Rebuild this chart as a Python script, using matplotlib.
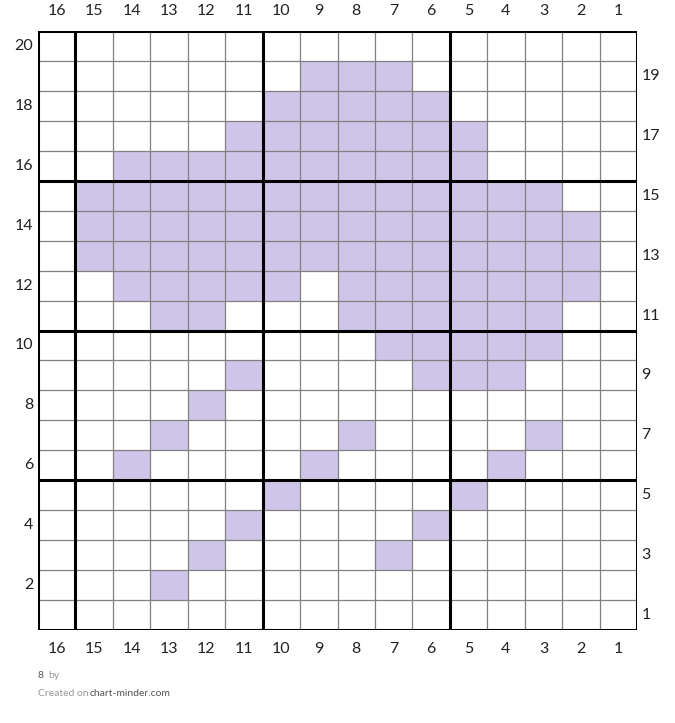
import numpy as np
import matplotlib
matplotlib.use("Agg")
import matplotlib.pyplot as plt
from matplotlib.colors import ListedColormap

plt.rcParams['font.family'] = ['Lato', 'DejaVu Sans']

n_cols = 16
n_rows = 20
col_numbers = list(range(16, 0, -1))   # left to right
row_numbers = list(range(20, 0, -1))   # top to bottom

# filled stitches per row (column numbers)
filled = {
    20: [],
    19: [9, 8, 7],
    18: [10, 9, 8, 7, 6],
    17: [11, 10, 9, 8, 7, 6, 5],
    16: [14, 13, 12, 11, 10, 9, 8, 7, 6, 5],
    15: [15, 14, 13, 12, 11, 10, 9, 8, 7, 6, 5, 4, 3],
    14: [15, 14, 13, 12, 11, 10, 9, 8, 7, 6, 5, 4, 3, 2],
    13: [15, 14, 13, 12, 11, 10, 9, 8, 7, 6, 5, 4, 3, 2],
    12: [14, 13, 12, 11, 10, 8, 7, 6, 5, 4, 3, 2],
    11: [13, 12, 8, 7, 6, 5, 4, 3],
    10: [7, 6, 5, 4, 3],
    9: [11, 6, 5, 4],
    8: [12],
    7: [13, 8, 3],
    6: [14, 9, 4],
    5: [10, 5],
    4: [11, 6],
    3: [12, 7],
    2: [13],
    1: [],
}

fill_color = '#cfc5e8'

grid = np.zeros((n_rows, n_cols))
for r, cols in filled.items():
    for c in cols:
        grid[r - 1, c - 1] = 1

fig = plt.figure(figsize=(6.75, 7.23), dpi=100)
ax = fig.add_axes([38/675, (723-630)/723, 599/675, 599/723])

xe = np.arange(0.5, n_cols + 1.5, 1)
ye = np.arange(0.5, n_rows + 1.5, 1)
ax.pcolormesh(xe, ye, grid, cmap=ListedColormap(['white', fill_color]),
              vmin=0, vmax=1, shading='flat')
ax.set_xlim(n_cols + 0.5, 0.5)
ax.set_ylim(0.5, n_rows + 0.5)

for x in xe:
    k = int(x - 0.5)
    if k % 5 == 0 or k == n_cols:
        ax.axvline(x, color='black', lw=2.2, zorder=3)
    else:
        ax.axvline(x, color='#808080', lw=0.9, zorder=2)
for y in ye:
    k = int(y - 0.5)
    if k % 5 == 0 or k == n_rows:
        ax.axhline(y, color='black', lw=2.2, zorder=3)
    else:
        ax.axhline(y, color='#808080', lw=0.9, zorder=2)

for s in ax.spines.values():
    s.set_visible(False)
ax.set_xticks([])
ax.set_yticks([])

fs = 11.5
for c in col_numbers:
    ax.text(c, 1.022, str(c), transform=ax.get_xaxis_transform(), ha='center',
            va='bottom', fontsize=fs, color='#222222')
    ax.text(c, -0.02, str(c), transform=ax.get_xaxis_transform(), ha='center',
            va='top', fontsize=fs, color='#222222')
for r in row_numbers:
    if r % 2 == 0:
        ax.text(-0.008, r, str(r), transform=ax.get_yaxis_transform(), ha='right',
                va='center', fontsize=fs, color='#222222')
    else:
        ax.text(1.007, r, str(r), transform=ax.get_yaxis_transform(), ha='left',
                va='center', fontsize=fs, color='#222222')

fig.text(38/675, 1 - 675/723, '8', fontsize=7.5, color='#555555', va='center', ha='left')
fig.text(48/675, 1 - 675/723, 'by', fontsize=7.5, color='#999999', va='center', ha='left')
fig.text(38/675, 1 - 693/723, 'Created on', fontsize=7.5, color='#999999', va='center', ha='left')
fig.text(90/675, 1 - 693/723, 'chart-minder.com', fontsize=7.5, color='#555555', va='center', ha='left')

fig.savefig('out.png', dpi=100, facecolor='white')
